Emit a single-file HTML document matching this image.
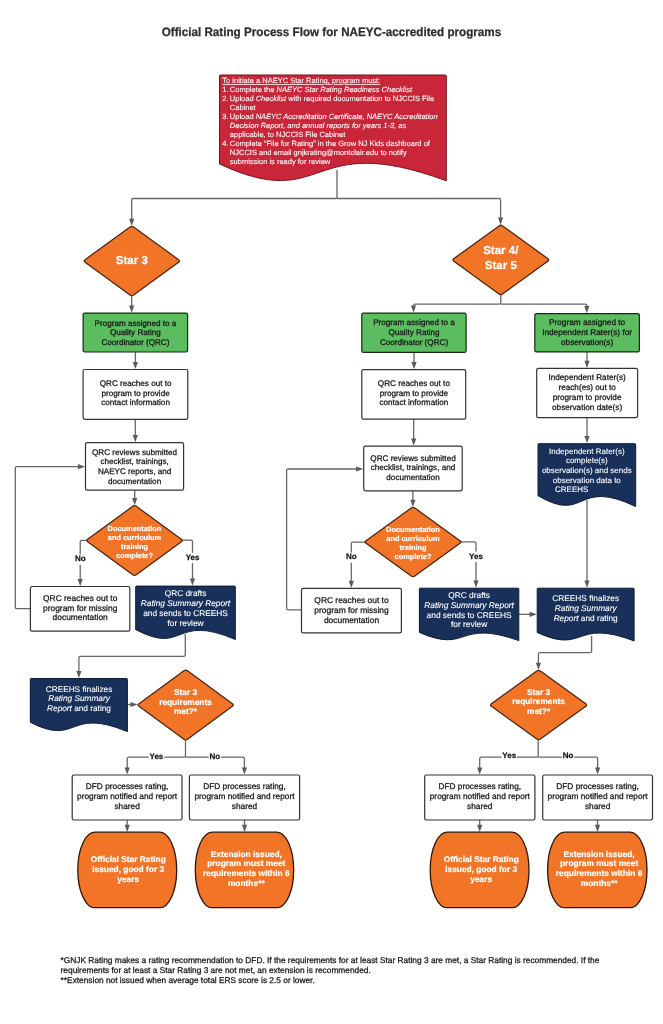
<!DOCTYPE html>
<html><head><meta charset="utf-8"><title>Official Rating Process Flow</title>
<style>
html,body{margin:0;padding:0;background:#fff;}
body{width:663px;height:1024px;overflow:hidden;}
svg{display:block;will-change:transform;text-rendering:geometricPrecision;font-family:"Liberation Sans",sans-serif;}
text{stroke:currentColor;stroke-width:0.25px;}
text[fill="#ffffff"],text[fill="#fff"]{stroke-width:0.1px;}
text[fill="#ffffff"][font-weight="bold"]{stroke-width:0.2px;}
</style></head><body>
<svg width="663" height="1024" viewBox="0 0 663 1024">
<text x="161.7" y="36.4" font-size="12.2" font-weight="bold" fill="#2d2d2d" color="#2d2d2d" textLength="339.5" lengthAdjust="spacingAndGlyphs">Official Rating Process Flow for NAEYC-accredited programs</text>
<path d="M337,170 L337,196.9 Q337,198.5 335.4,198.5 L133.3,198.5 Q131.7,198.5 131.7,200.1 L131.7,220.8" fill="none" stroke="#666666" stroke-width="1.3"/>
<path d="M131.7,225.9 L129.1,218.7 L134.3,218.7 Z" fill="#5a5a5a"/>
<path d="M337,198.5 L499,198.5 Q500.6,198.5 500.6,200.1 L500.6,219.7" fill="none" stroke="#666666" stroke-width="1.3"/>
<path d="M500.6,224.8 L498,217.6 L503.2,217.6 Z" fill="#5a5a5a"/>
<path d="M131.7,295 L131.7,307.6" fill="none" stroke="#666666" stroke-width="1.3"/>
<path d="M131.7,312.7 L129.1,305.5 L134.3,305.5 Z" fill="#5a5a5a"/>
<path d="M135.4,352 L135.4,364" fill="none" stroke="#666666" stroke-width="1.3"/>
<path d="M135.4,369.1 L132.8,361.9 L138,361.9 Z" fill="#5a5a5a"/>
<path d="M135.3,419.3 L135.3,437.1" fill="none" stroke="#666666" stroke-width="1.3"/>
<path d="M135.3,442.2 L132.7,435 L137.9,435 Z" fill="#5a5a5a"/>
<path d="M134.7,490.2 L134.7,500.2" fill="none" stroke="#666666" stroke-width="1.3"/>
<path d="M134.7,505.3 L132.1,498.1 L137.3,498.1 Z" fill="#5a5a5a"/>
<path d="M86.7,540.3 L81.8,540.3 Q80.2,540.3 80.2,541.9 L80.2,581.2" fill="none" stroke="#666666" stroke-width="1.3"/>
<path d="M80.2,586.3 L77.6,579.1 L82.8,579.1 Z" fill="#5a5a5a"/>
<path d="M182.2,540.2 L190.9,540.2 Q192.5,540.2 192.5,541.8 L192.5,580.6" fill="none" stroke="#666666" stroke-width="1.3"/>
<path d="M192.5,585.7 L189.9,578.5 L195.1,578.5 Z" fill="#5a5a5a"/>
<path d="M30.4,608.6 L16.9,608.6 Q15.3,608.6 15.3,607 L15.3,468.3 Q15.3,466.7 16.9,466.7 L80,466.7" fill="none" stroke="#666666" stroke-width="1.3"/>
<path d="M85.1,466.7 L77.9,469.3 L77.9,464.1 Z" fill="#5a5a5a"/>
<path d="M185.3,634 L185.3,654.7 Q185.3,656.3 183.7,656.3 L80.5,656.3 Q78.9,656.3 78.9,657.9 L78.9,673" fill="none" stroke="#666666" stroke-width="1.3"/>
<path d="M78.9,678.1 L76.3,670.9 L81.5,670.9 Z" fill="#5a5a5a"/>
<path d="M127.4,704.5 L132.6,704.5" fill="none" stroke="#666666" stroke-width="1.3"/>
<path d="M137.7,704.5 L130.5,707.1 L130.5,701.9 Z" fill="#5a5a5a"/>
<path d="M185.5,739.8 L185.5,755.5 Q185.5,757.1 183.9,757.1 L128.8,757.1 Q127.2,757.1 127.2,758.7 L127.2,769.5" fill="none" stroke="#666666" stroke-width="1.3"/>
<path d="M127.2,774.6 L124.6,767.4 L129.8,767.4 Z" fill="#5a5a5a"/>
<path d="M185.5,757.1 L242.8,757.1 Q244.4,757.1 244.4,758.7 L244.4,769.5" fill="none" stroke="#666666" stroke-width="1.3"/>
<path d="M244.4,774.6 L241.8,767.4 L247,767.4 Z" fill="#5a5a5a"/>
<path d="M127.2,820 L127.2,826.8" fill="none" stroke="#666666" stroke-width="1.3"/>
<path d="M127.2,831.9 L124.6,824.7 L129.8,824.7 Z" fill="#5a5a5a"/>
<path d="M244.5,820 L244.5,826.8" fill="none" stroke="#666666" stroke-width="1.3"/>
<path d="M244.5,831.9 L241.9,824.7 L247.1,824.7 Z" fill="#5a5a5a"/>
<path d="M500.8,294.5 L500.8,302.6 Q500.8,304.2 499.2,304.2 L415.1,304.2 Q413.5,304.2 413.5,305.8 L413.5,307.6" fill="none" stroke="#666666" stroke-width="1.3"/>
<path d="M413.5,312.7 L410.9,305.5 L416.1,305.5 Z" fill="#5a5a5a"/>
<path d="M500.8,304.2 L585.2,304.2 Q586.8,304.2 586.8,305.8 L586.8,308.1" fill="none" stroke="#666666" stroke-width="1.3"/>
<path d="M586.8,313.2 L584.2,306 L589.4,306 Z" fill="#5a5a5a"/>
<path d="M414,352.4 L414,364.2" fill="none" stroke="#666666" stroke-width="1.3"/>
<path d="M414,369.3 L411.4,362.1 L416.6,362.1 Z" fill="#5a5a5a"/>
<path d="M413.7,419.1 L413.7,440.6" fill="none" stroke="#666666" stroke-width="1.3"/>
<path d="M413.7,445.7 L411.1,438.5 L416.3,438.5 Z" fill="#5a5a5a"/>
<path d="M412.9,490.8 L412.9,501.9" fill="none" stroke="#666666" stroke-width="1.3"/>
<path d="M412.9,507 L410.3,499.8 L415.5,499.8 Z" fill="#5a5a5a"/>
<path d="M365.1,542.1 L352.9,542.1 Q351.3,542.1 351.3,543.7 L351.3,582.9" fill="none" stroke="#666666" stroke-width="1.3"/>
<path d="M351.3,588 L348.7,580.8 L353.9,580.8 Z" fill="#5a5a5a"/>
<path d="M460.8,541.9 L474.4,541.9 Q476,541.9 476,543.5 L476,582.7" fill="none" stroke="#666666" stroke-width="1.3"/>
<path d="M476,587.8 L473.4,580.6 L478.6,580.6 Z" fill="#5a5a5a"/>
<path d="M301.5,609.8 L288.2,609.8 Q286.6,609.8 286.6,608.2 L286.6,470.6 Q286.6,469 288.2,469 L358.2,469" fill="none" stroke="#666666" stroke-width="1.3"/>
<path d="M363.3,469 L356.1,471.6 L356.1,466.4 Z" fill="#5a5a5a"/>
<path d="M518.8,614.3 L531.7,614.3" fill="none" stroke="#666666" stroke-width="1.3"/>
<path d="M536.8,614.3 L529.6,616.9 L529.6,611.7 Z" fill="#5a5a5a"/>
<path d="M587,351.9 L587,362.8" fill="none" stroke="#666666" stroke-width="1.3"/>
<path d="M587,367.9 L584.4,360.7 L589.6,360.7 Z" fill="#5a5a5a"/>
<path d="M587,417.7 L587,438.2" fill="none" stroke="#666666" stroke-width="1.3"/>
<path d="M587,443.3 L584.4,436.1 L589.6,436.1 Z" fill="#5a5a5a"/>
<path d="M587,500 L587,582.7" fill="none" stroke="#666666" stroke-width="1.3"/>
<path d="M587,587.8 L584.4,580.6 L589.6,580.6 Z" fill="#5a5a5a"/>
<path d="M591.6,636 L591.6,651 Q591.6,652.6 590,652.6 L540,652.6 Q538.4,652.6 538.4,654.2 L538.4,664.9" fill="none" stroke="#666666" stroke-width="1.3"/>
<path d="M538.4,670 L535.8,662.8 L541,662.8 Z" fill="#5a5a5a"/>
<path d="M538.2,739.6 L538.2,755.5 Q538.2,757.1 536.6,757.1 L481.3,757.1 Q479.7,757.1 479.7,758.7 L479.7,769.5" fill="none" stroke="#666666" stroke-width="1.3"/>
<path d="M479.7,774.6 L477.1,767.4 L482.3,767.4 Z" fill="#5a5a5a"/>
<path d="M538.2,757.1 L596,757.1 Q597.6,757.1 597.6,758.7 L597.6,769.5" fill="none" stroke="#666666" stroke-width="1.3"/>
<path d="M597.6,774.6 L595,767.4 L600.2,767.4 Z" fill="#5a5a5a"/>
<path d="M479.7,820 L479.7,826.8" fill="none" stroke="#666666" stroke-width="1.3"/>
<path d="M479.7,831.9 L477.1,824.7 L482.3,824.7 Z" fill="#5a5a5a"/>
<path d="M597.5,820 L597.5,826.8" fill="none" stroke="#666666" stroke-width="1.3"/>
<path d="M597.5,831.9 L594.9,824.7 L600.1,824.7 Z" fill="#5a5a5a"/>
<path d="M219.5,75.8 Q219.5,75 220.3,75 L445.5,75 Q446.3,75 446.3,75.8 L446.3,180.8 C305.68,128.72 328.36,214.4 219.5,164 Z" fill="#C92639" stroke="#6e1420" stroke-width="1.0" stroke-linejoin="round"/>
<path d="M130.02,226.94 Q131.8,225.65 133.58,226.94 L178.52,259.66 Q180.3,260.95 178.52,262.24 L133.58,294.96 Q131.8,296.25 130.02,294.96 L85.08,262.24 Q83.3,260.95 85.08,259.66 Z" fill="#F27427" stroke="#4a2410" stroke-width="1.25" stroke-linejoin="round"/>
<path d="M499.02,225.89 Q500.8,224.6 502.58,225.89 L547.72,258.61 Q549.5,259.9 547.72,261.19 L502.58,293.91 Q500.8,295.2 499.02,293.91 L453.88,261.19 Q452.1,259.9 453.88,258.61 Z" fill="#F27427" stroke="#4a2410" stroke-width="1.25" stroke-linejoin="round"/>
<rect x="83.1" y="313.1" width="104.5" height="38.9" rx="1.7" fill="#5BBD60" stroke="#142814" stroke-width="1.2"/>
<rect x="83.1" y="369.5" width="104.7" height="49.8" rx="1.7" fill="#fff" stroke="#333333" stroke-width="1.2"/>
<rect x="85.5" y="442.6" width="98.1" height="47.6" rx="1.7" fill="#fff" stroke="#333333" stroke-width="1.2"/>
<path d="M132.72,506.35 Q134.5,505.05 136.28,506.35 L181.37,539.2 Q183.15,540.5 181.37,541.8 L136.28,574.65 Q134.5,575.95 132.72,574.65 L87.63,541.8 Q85.85,540.5 87.63,539.2 Z" fill="#F27427" stroke="#4a2410" stroke-width="1.25" stroke-linejoin="round"/>
<rect x="30.4" y="586.5" width="99.4" height="44.7" rx="1.7" fill="#fff" stroke="#333333" stroke-width="1.2"/>
<path d="M135.7,586.9 Q135.7,586.1 136.5,586.1 L234.5,586.1 Q235.3,586.1 235.3,586.9 L235.3,639.5 C173.05,612.77 185.5,655.83 135.7,629.6 Z" fill="#18305A" stroke="#0d1a33" stroke-width="1.0" stroke-linejoin="round"/>
<path d="M30.3,679.3 Q30.3,678.5 31.1,678.5 L126.6,678.5 Q127.4,678.5 127.4,679.3 L127.4,731.6 C66.71,706.49 78.85,746.95 30.3,722.3 Z" fill="#18305A" stroke="#0d1a33" stroke-width="1.0" stroke-linejoin="round"/>
<path d="M183.92,670.85 Q185.7,669.55 187.48,670.85 L232.42,703.7 Q234.2,705 232.42,706.3 L187.48,739.15 Q185.7,740.45 183.92,739.15 L138.98,706.3 Q137.2,705 138.98,703.7 Z" fill="#F27427" stroke="#4a2410" stroke-width="1.25" stroke-linejoin="round"/>
<rect x="72.2" y="775" width="109.8" height="45" rx="1.7" fill="#fff" stroke="#333333" stroke-width="1.2"/>
<rect x="189.4" y="775" width="110.2" height="45" rx="1.7" fill="#fff" stroke="#333333" stroke-width="1.2"/>
<path d="M94.8,832.2 L159.7,832.2 A17,37.75 0 0 1 159.7,907.7 L94.8,907.7 A17,37.75 0 0 1 94.8,832.2 Z" fill="#F27427" stroke="#2e1508" stroke-width="1.3"/>
<path d="M212.3,832.2 L276.7,832.2 A17,37.75 0 0 1 276.7,907.7 L212.3,907.7 A17,37.75 0 0 1 212.3,832.2 Z" fill="#F27427" stroke="#2e1508" stroke-width="1.3"/>
<rect x="361.8" y="313.1" width="104.3" height="39.3" rx="1.7" fill="#5BBD60" stroke="#142814" stroke-width="1.2"/>
<rect x="534.8" y="313.6" width="104.6" height="38.3" rx="1.7" fill="#5BBD60" stroke="#142814" stroke-width="1.2"/>
<rect x="361.8" y="369.7" width="103.9" height="49.4" rx="1.7" fill="#fff" stroke="#333333" stroke-width="1.2"/>
<rect x="536.7" y="368.3" width="100.9" height="49.4" rx="1.7" fill="#fff" stroke="#333333" stroke-width="1.2"/>
<rect x="363.7" y="446.1" width="98.5" height="44.7" rx="1.7" fill="#fff" stroke="#333333" stroke-width="1.2"/>
<path d="M538,444.5 Q538,443.7 538.8,443.7 L634.9,443.7 Q635.7,443.7 635.7,444.5 L635.7,506.5 C574.64,477.34 586.85,524.32 538,495.7 Z" fill="#18305A" stroke="#0d1a33" stroke-width="1.0" stroke-linejoin="round"/>
<path d="M411.22,507.99 Q413,506.7 414.78,507.99 L459.97,540.71 Q461.75,542 459.97,543.29 L414.78,576.01 Q413,577.3 411.22,576.01 L366.03,543.29 Q364.25,542 366.03,540.71 Z" fill="#F27427" stroke="#4a2410" stroke-width="1.25" stroke-linejoin="round"/>
<rect x="301.5" y="588.4" width="99.9" height="44.5" rx="1.7" fill="#fff" stroke="#333333" stroke-width="1.2"/>
<path d="M419.4,589 Q419.4,588.2 420.2,588.2 L518,588.2 Q518.8,588.2 518.8,589 L518.8,640.6 C456.67,618.46 469.1,654.13 419.4,632.4 Z" fill="#18305A" stroke="#0d1a33" stroke-width="1.0" stroke-linejoin="round"/>
<path d="M537.2,589 Q537.2,588.2 538,588.2 L633.3,588.2 Q634.1,588.2 634.1,589 L634.1,640.9 C573.54,617.95 585.65,654.92 537.2,632.4 Z" fill="#18305A" stroke="#0d1a33" stroke-width="1.0" stroke-linejoin="round"/>
<path d="M536.81,671.04 Q538.6,669.75 540.39,671.04 L585.76,703.71 Q587.55,705 585.76,706.29 L540.39,738.96 Q538.6,740.25 536.81,738.96 L491.44,706.29 Q489.65,705 491.44,703.71 Z" fill="#F27427" stroke="#4a2410" stroke-width="1.25" stroke-linejoin="round"/>
<rect x="424.7" y="775" width="110.2" height="45" rx="1.7" fill="#fff" stroke="#333333" stroke-width="1.2"/>
<rect x="542.7" y="775" width="109.8" height="45" rx="1.7" fill="#fff" stroke="#333333" stroke-width="1.2"/>
<path d="M447.2,832.2 L512,832.2 A17,37.75 0 0 1 512,907.7 L447.2,907.7 A17,37.75 0 0 1 447.2,832.2 Z" fill="#F27427" stroke="#2e1508" stroke-width="1.3"/>
<path d="M564.6,832.2 L630,832.2 A17,37.75 0 0 1 630,907.7 L564.6,907.7 A17,37.75 0 0 1 564.6,832.2 Z" fill="#F27427" stroke="#2e1508" stroke-width="1.3"/>
<text x="222.3" y="83" font-size="7.5" fill="#fff" color="#fff" text-decoration="underline">To initiate a NAEYC Star Rating, program must:</text>
<text x="222.3" y="92" font-size="7.5" fill="#fff" color="#fff">1.</text>
<text x="229.8" y="92" font-size="7.5" fill="#fff" color="#fff">Complete the <tspan font-style="italic">NAEYC Star Rating Readiness Checklist</tspan></text>
<text x="222.3" y="101" font-size="7.5" fill="#fff" color="#fff">2.</text>
<text x="229.8" y="101" font-size="7.5" fill="#fff" color="#fff">Upload <tspan font-style="italic">Checklist</tspan> with required documentation to NJCCIS File</text>
<text x="229.8" y="110" font-size="7.5" fill="#fff" color="#fff">Cabinet</text>
<text x="222.3" y="119" font-size="7.5" fill="#fff" color="#fff">3.</text>
<text x="229.8" y="119" font-size="7.5" fill="#fff" color="#fff">Upload <tspan font-style="italic">NAEYC Accreditation Certificate, NAEYC Accreditation</tspan></text>
<text x="229.8" y="128" font-size="7.5" fill="#fff" color="#fff"><tspan font-style="italic">Decision Report, and annual reports for years 1-3</tspan>, as</text>
<text x="229.8" y="137" font-size="7.5" fill="#fff" color="#fff">applicable, to NJCCIS File Cabinet</text>
<text x="222.3" y="146" font-size="7.5" fill="#fff" color="#fff">4.</text>
<text x="229.8" y="146" font-size="7.5" fill="#fff" color="#fff">Complete “File for Rating” in the Grow NJ Kids dashboard of</text>
<text x="229.8" y="155" font-size="7.5" fill="#fff" color="#fff">NJCCIS and email gnjkrating@montclair.edu to notify</text>
<text x="229.8" y="164" font-size="7.5" fill="#fff" color="#fff">submission is ready for review</text>
<text x="131.8" y="264.4" font-size="11.5" fill="#ffffff" color="#ffffff" font-weight="bold" text-anchor="middle">Star 3</text>
<text x="500.8" y="254.4" font-size="11.5" fill="#ffffff" color="#ffffff" font-weight="bold" text-anchor="middle">Star 4/</text>
<text x="500.8" y="268.6" font-size="11.5" fill="#ffffff" color="#ffffff" font-weight="bold" text-anchor="middle">Star 5</text>
<text x="135.4" y="325.6" font-size="8.12" fill="#141414" color="#141414" font-weight="normal" text-anchor="middle">Program assigned to a</text>
<text x="135.4" y="335.3" font-size="8.12" fill="#141414" color="#141414" font-weight="normal" text-anchor="middle">Quality Rating</text>
<text x="135.4" y="345" font-size="8.12" fill="#141414" color="#141414" font-weight="normal" text-anchor="middle">Coordinator (QRC)</text>
<text x="135.6" y="385.9" font-size="8.15" fill="#141414" color="#141414" font-weight="normal" text-anchor="middle">QRC reaches out to</text>
<text x="135.6" y="395.65" font-size="8.15" fill="#141414" color="#141414" font-weight="normal" text-anchor="middle">program to provide</text>
<text x="135.6" y="405.4" font-size="8.15" fill="#141414" color="#141414" font-weight="normal" text-anchor="middle">contact information</text>
<text x="134.6" y="454.7" font-size="8.1" fill="#141414" color="#141414" font-weight="normal" text-anchor="middle">QRC reviews submitted</text>
<text x="134.6" y="464.3" font-size="8.1" fill="#141414" color="#141414" font-weight="normal" text-anchor="middle">checklist, trainings,</text>
<text x="134.6" y="473.9" font-size="8.1" fill="#141414" color="#141414" font-weight="normal" text-anchor="middle">NAEYC reports, and</text>
<text x="134.6" y="483.5" font-size="8.1" fill="#141414" color="#141414" font-weight="normal" text-anchor="middle">documentation</text>
<text x="134.5" y="530.9" font-size="7.4" fill="#ffffff" color="#ffffff" font-weight="bold" text-anchor="middle">Documentation</text>
<text x="134.5" y="539.8" font-size="7.4" fill="#ffffff" color="#ffffff" font-weight="bold" text-anchor="middle">and curriculum</text>
<text x="134.5" y="548.7" font-size="7.4" fill="#ffffff" color="#ffffff" font-weight="bold" text-anchor="middle">training</text>
<text x="134.5" y="557.6" font-size="7.4" fill="#ffffff" color="#ffffff" font-weight="bold" text-anchor="middle">complete?</text>
<text x="80.2" y="600.9" font-size="8.42" fill="#141414" color="#141414" font-weight="normal" text-anchor="middle">QRC reaches out to</text>
<text x="80.2" y="610.65" font-size="8.42" fill="#141414" color="#141414" font-weight="normal" text-anchor="middle">program for missing</text>
<text x="80.2" y="620.4" font-size="8.42" fill="#141414" color="#141414" font-weight="normal" text-anchor="middle">documentation</text>
<text x="185.5" y="596.2" font-size="8.33" fill="#ffffff" color="#ffffff" font-weight="normal" text-anchor="middle">QRC drafts</text>
<text x="185.5" y="606.1" font-size="8.33" fill="#ffffff" color="#ffffff" font-weight="normal" text-anchor="middle"><tspan font-style="italic">Rating Summary Report</tspan></text>
<text x="185.5" y="616" font-size="8.33" fill="#ffffff" color="#ffffff" font-weight="normal" text-anchor="middle">and sends to CREEHS</text>
<text x="185.5" y="625.9" font-size="8.33" fill="#ffffff" color="#ffffff" font-weight="normal" text-anchor="middle">for review</text>
<text x="79" y="691.8" font-size="8.27" fill="#ffffff" color="#ffffff" font-weight="normal" text-anchor="middle">CREEHS finalizes</text>
<text x="79" y="701.45" font-size="8.27" fill="#ffffff" color="#ffffff" font-weight="normal" text-anchor="middle"><tspan font-style="italic">Rating Summary</tspan></text>
<text x="79" y="711.1" font-size="8.27" fill="#ffffff" color="#ffffff" font-weight="normal" text-anchor="middle"><tspan font-style="italic">Report</tspan> and rating</text>
<text x="185.5" y="694.8" font-size="8.3" fill="#ffffff" color="#ffffff" font-weight="bold" text-anchor="middle">Star 3</text>
<text x="185.5" y="704.6" font-size="8.3" fill="#ffffff" color="#ffffff" font-weight="bold" text-anchor="middle">requirements</text>
<text x="185.5" y="714.4" font-size="8.3" fill="#ffffff" color="#ffffff" font-weight="bold" text-anchor="middle">met?*</text>
<text x="127.1" y="788.8" font-size="8.3" fill="#141414" color="#141414" font-weight="normal" text-anchor="middle">DFD processes rating,</text>
<text x="127.1" y="798.8" font-size="8.3" fill="#141414" color="#141414" font-weight="normal" text-anchor="middle">program notified and report</text>
<text x="127.1" y="808.8" font-size="8.3" fill="#141414" color="#141414" font-weight="normal" text-anchor="middle">shared</text>
<text x="244.5" y="788.8" font-size="8.3" fill="#141414" color="#141414" font-weight="normal" text-anchor="middle">DFD processes rating,</text>
<text x="244.5" y="798.8" font-size="8.3" fill="#141414" color="#141414" font-weight="normal" text-anchor="middle">program notified and report</text>
<text x="244.5" y="808.8" font-size="8.3" fill="#141414" color="#141414" font-weight="normal" text-anchor="middle">shared</text>
<text x="128.2" y="862.1" font-size="8.35" fill="#ffffff" color="#ffffff" font-weight="bold" text-anchor="middle">Official Star Rating</text>
<text x="128.2" y="872.05" font-size="8.35" fill="#ffffff" color="#ffffff" font-weight="bold" text-anchor="middle">issued, good for 3</text>
<text x="128.2" y="882" font-size="8.35" fill="#ffffff" color="#ffffff" font-weight="bold" text-anchor="middle">years</text>
<text x="246.3" y="856.5" font-size="8.38" fill="#ffffff" color="#ffffff" font-weight="bold" text-anchor="middle">Extension issued,</text>
<text x="246.3" y="866.45" font-size="8.38" fill="#ffffff" color="#ffffff" font-weight="bold" text-anchor="middle">program must meet</text>
<text x="246.3" y="876.4" font-size="8.38" fill="#ffffff" color="#ffffff" font-weight="bold" text-anchor="middle">requirements within 6</text>
<text x="246.3" y="886.35" font-size="8.38" fill="#ffffff" color="#ffffff" font-weight="bold" text-anchor="middle">months**</text>
<text x="414" y="325.3" font-size="8.14" fill="#141414" color="#141414" font-weight="normal" text-anchor="middle">Program assigned to a</text>
<text x="414" y="334.9" font-size="8.14" fill="#141414" color="#141414" font-weight="normal" text-anchor="middle">Quality Rating</text>
<text x="414" y="344.5" font-size="8.14" fill="#141414" color="#141414" font-weight="normal" text-anchor="middle">Coordinator (QRC)</text>
<text x="587.1" y="325.4" font-size="8.26" fill="#141414" color="#141414" font-weight="normal" text-anchor="middle">Program assigned to</text>
<text x="587.1" y="335" font-size="8.26" fill="#141414" color="#141414" font-weight="normal" text-anchor="middle">Independent Rater(s) for</text>
<text x="587.1" y="344.6" font-size="8.26" fill="#141414" color="#141414" font-weight="normal" text-anchor="middle">observation(s)</text>
<text x="413.9" y="385.9" font-size="8.16" fill="#141414" color="#141414" font-weight="normal" text-anchor="middle">QRC reaches out to</text>
<text x="413.9" y="395.6" font-size="8.16" fill="#141414" color="#141414" font-weight="normal" text-anchor="middle">program to provide</text>
<text x="413.9" y="405.3" font-size="8.16" fill="#141414" color="#141414" font-weight="normal" text-anchor="middle">contact information</text>
<text x="587.1" y="380.4" font-size="8.2" fill="#141414" color="#141414" font-weight="normal" text-anchor="middle">Independent Rater(s)</text>
<text x="587.1" y="390.2" font-size="8.2" fill="#141414" color="#141414" font-weight="normal" text-anchor="middle">reach(es) out to</text>
<text x="587.1" y="400" font-size="8.2" fill="#141414" color="#141414" font-weight="normal" text-anchor="middle">program to provide</text>
<text x="587.1" y="409.8" font-size="8.2" fill="#141414" color="#141414" font-weight="normal" text-anchor="middle">observation date(s)</text>
<text x="413" y="460.8" font-size="8.15" fill="#141414" color="#141414" font-weight="normal" text-anchor="middle">QRC reviews submitted</text>
<text x="413" y="470.2" font-size="8.15" fill="#141414" color="#141414" font-weight="normal" text-anchor="middle">checklist, trainings, and</text>
<text x="413" y="479.6" font-size="8.15" fill="#141414" color="#141414" font-weight="normal" text-anchor="middle">documentation</text>
<text x="413" y="532.2" font-size="7.4" fill="#ffffff" color="#ffffff" font-weight="bold" text-anchor="middle">Documentation</text>
<text x="413" y="541.15" font-size="7.4" fill="#ffffff" color="#ffffff" font-weight="bold" text-anchor="middle">and curriculum</text>
<text x="413" y="550.1" font-size="7.4" fill="#ffffff" color="#ffffff" font-weight="bold" text-anchor="middle">training</text>
<text x="413" y="559.05" font-size="7.4" fill="#ffffff" color="#ffffff" font-weight="bold" text-anchor="middle">complete?</text>
<text x="351.5" y="602.6" font-size="8.42" fill="#141414" color="#141414" font-weight="normal" text-anchor="middle">QRC reaches out to</text>
<text x="351.5" y="612.55" font-size="8.42" fill="#141414" color="#141414" font-weight="normal" text-anchor="middle">program for missing</text>
<text x="351.5" y="622.5" font-size="8.42" fill="#141414" color="#141414" font-weight="normal" text-anchor="middle">documentation</text>
<text x="469.1" y="597.8" font-size="8.37" fill="#ffffff" color="#ffffff" font-weight="normal" text-anchor="middle">QRC drafts</text>
<text x="469.1" y="607.65" font-size="8.37" fill="#ffffff" color="#ffffff" font-weight="normal" text-anchor="middle"><tspan font-style="italic">Rating Summary Report</tspan></text>
<text x="469.1" y="617.5" font-size="8.37" fill="#ffffff" color="#ffffff" font-weight="normal" text-anchor="middle">and sends to CREEHS</text>
<text x="469.1" y="627.35" font-size="8.37" fill="#ffffff" color="#ffffff" font-weight="normal" text-anchor="middle">for review</text>
<text x="586.8" y="453.6" font-size="8.0" fill="#ffffff" color="#ffffff" font-weight="normal" text-anchor="middle">Independent Rater(s)</text>
<text x="586.8" y="463.3" font-size="8.0" fill="#ffffff" color="#ffffff" font-weight="normal" text-anchor="middle">complete(s)</text>
<text x="586.8" y="473" font-size="8.0" fill="#ffffff" color="#ffffff" font-weight="normal" text-anchor="middle">observation(s) and sends</text>
<text x="586.8" y="482.7" font-size="8.0" fill="#ffffff" color="#ffffff" font-weight="normal" text-anchor="middle">observation data to</text>
<text x="555" y="492.3" font-size="8.0" fill="#ffffff" color="#ffffff" font-weight="normal" text-anchor="start">CREEHS</text>
<text x="585.7" y="601.4" font-size="8.3" fill="#ffffff" color="#ffffff" font-weight="normal" text-anchor="middle">CREEHS finalizes</text>
<text x="585.7" y="611.3" font-size="8.3" fill="#ffffff" color="#ffffff" font-weight="normal" text-anchor="middle"><tspan font-style="italic">Rating Summary</tspan></text>
<text x="585.7" y="621.2" font-size="8.3" fill="#ffffff" color="#ffffff" font-weight="normal" text-anchor="middle"><tspan font-style="italic">Report</tspan> and rating</text>
<text x="538.6" y="694.6" font-size="8.3" fill="#ffffff" color="#ffffff" font-weight="bold" text-anchor="middle">Star 3</text>
<text x="538.6" y="704.4" font-size="8.3" fill="#ffffff" color="#ffffff" font-weight="bold" text-anchor="middle">requirements</text>
<text x="538.6" y="714.2" font-size="8.3" fill="#ffffff" color="#ffffff" font-weight="bold" text-anchor="middle">met?*</text>
<text x="479.8" y="788.8" font-size="8.3" fill="#141414" color="#141414" font-weight="normal" text-anchor="middle">DFD processes rating,</text>
<text x="479.8" y="798.8" font-size="8.3" fill="#141414" color="#141414" font-weight="normal" text-anchor="middle">program notified and report</text>
<text x="479.8" y="808.8" font-size="8.3" fill="#141414" color="#141414" font-weight="normal" text-anchor="middle">shared</text>
<text x="597.6" y="788.8" font-size="8.3" fill="#141414" color="#141414" font-weight="normal" text-anchor="middle">DFD processes rating,</text>
<text x="597.6" y="798.8" font-size="8.3" fill="#141414" color="#141414" font-weight="normal" text-anchor="middle">program notified and report</text>
<text x="597.6" y="808.8" font-size="8.3" fill="#141414" color="#141414" font-weight="normal" text-anchor="middle">shared</text>
<text x="481.2" y="862.1" font-size="8.35" fill="#ffffff" color="#ffffff" font-weight="bold" text-anchor="middle">Official Star Rating</text>
<text x="481.2" y="872.05" font-size="8.35" fill="#ffffff" color="#ffffff" font-weight="bold" text-anchor="middle">issued, good for 3</text>
<text x="481.2" y="882" font-size="8.35" fill="#ffffff" color="#ffffff" font-weight="bold" text-anchor="middle">years</text>
<text x="599.1" y="856.5" font-size="8.38" fill="#ffffff" color="#ffffff" font-weight="bold" text-anchor="middle">Extension issued,</text>
<text x="599.1" y="866.45" font-size="8.38" fill="#ffffff" color="#ffffff" font-weight="bold" text-anchor="middle">program must meet</text>
<text x="599.1" y="876.4" font-size="8.38" fill="#ffffff" color="#ffffff" font-weight="bold" text-anchor="middle">requirements within 6</text>
<text x="599.1" y="886.35" font-size="8.38" fill="#ffffff" color="#ffffff" font-weight="bold" text-anchor="middle">months**</text>
<rect x="74.12" y="554.5" width="12.26" height="10.3" fill="#fff"/>
<text x="80.25" y="561.4" font-size="8.0" fill="#141414" color="#141414" font-weight="bold" text-anchor="middle">No</text>
<rect x="184.91" y="552.8" width="15.39" height="10.3" fill="#fff"/>
<text x="192.6" y="559.7" font-size="8.0" fill="#141414" color="#141414" font-weight="bold" text-anchor="middle">Yes</text>
<rect x="345.17" y="552.5" width="12.26" height="10.3" fill="#fff"/>
<text x="351.3" y="559.4" font-size="8.0" fill="#141414" color="#141414" font-weight="bold" text-anchor="middle">No</text>
<rect x="468.31" y="551.6" width="15.39" height="10.3" fill="#fff"/>
<text x="476" y="558.5" font-size="8.0" fill="#141414" color="#141414" font-weight="bold" text-anchor="middle">Yes</text>
<rect x="148.71" y="751.6" width="15.39" height="10.3" fill="#fff"/>
<text x="156.4" y="758.5" font-size="8.0" fill="#141414" color="#141414" font-weight="bold" text-anchor="middle">Yes</text>
<rect x="208.67" y="751.6" width="12.26" height="10.3" fill="#fff"/>
<text x="214.8" y="758.5" font-size="8.0" fill="#141414" color="#141414" font-weight="bold" text-anchor="middle">No</text>
<rect x="501.5" y="751.4" width="15.39" height="10.3" fill="#fff"/>
<text x="509.2" y="758.3" font-size="8.0" fill="#141414" color="#141414" font-weight="bold" text-anchor="middle">Yes</text>
<rect x="561.87" y="751.4" width="12.26" height="10.3" fill="#fff"/>
<text x="568" y="758.3" font-size="8.0" fill="#141414" color="#141414" font-weight="bold" text-anchor="middle">No</text>
<text x="60.6" y="963.1" font-size="8.33" fill="#141414" color="#141414">*GNJK Rating makes a rating recommendation to DFD. If the requirements for at least Star Rating 3 are met, a Star Rating is recommended. If the</text>
<text x="60.6" y="972.9" font-size="8.33" fill="#141414" color="#141414">requirements for at least a Star Rating 3 are not met, an extension is recommended.</text>
<text x="60.6" y="982.8" font-size="8.33" fill="#141414" color="#141414">**Extension not issued when average total ERS score is 2.5 or lower.</text>
</svg>
</body></html>
